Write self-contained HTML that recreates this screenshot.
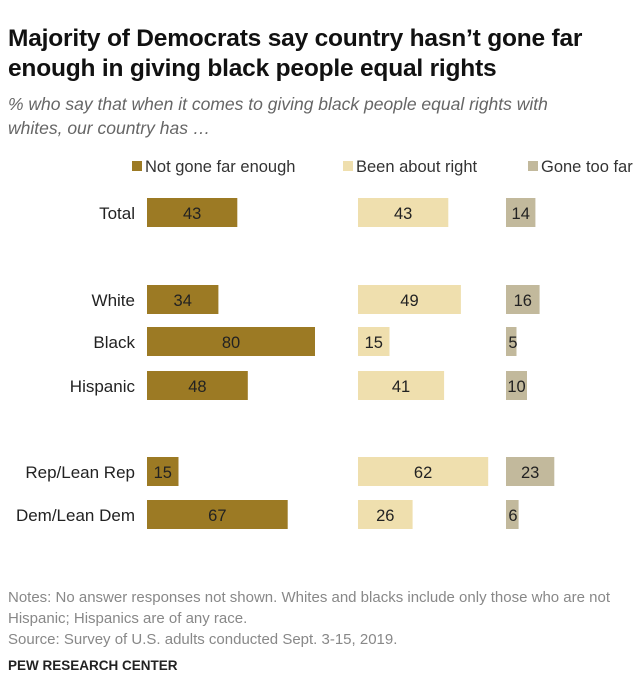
<!DOCTYPE html>
<html><head><meta charset="utf-8"><style>
body{margin:0;background:#fff;font-family:"Liberation Sans",sans-serif;}
#wrap{position:relative;width:639px;height:679px;overflow:hidden;}
.t{position:absolute;white-space:nowrap;}
</style></head><body>
<div id="wrap">
<div class="t" style="left:8px;top:24px;font-size:24.5px;font-weight:bold;color:#111;line-height:30px;letter-spacing:-0.2px">Majority of Democrats say country hasn’t gone far<br>enough in giving black people equal rights</div>
<div class="t" style="left:8px;top:92px;font-size:17.5px;font-style:italic;color:#666;line-height:24px">% who say that when it comes to giving black people equal rights with<br>whites, our country has …</div>
<svg id="svg" width="639" height="679" style="position:absolute;left:0;top:0"></svg>
<div class="t" style="left:8px;top:587px;font-size:15px;color:#888;line-height:21px">Notes: No answer responses not shown. Whites and blacks include only those who are not<br>Hispanic; Hispanics are of any race.<br>Source: Survey of U.S. adults conducted Sept. 3-15, 2019.</div>
<div class="t" style="left:8px;top:658px;font-size:13.5px;font-weight:bold;color:#222">PEW RESEARCH CENTER</div>
</div>
<script>
const categories=["Total","White","Black","Hispanic","Rep/Lean Rep","Dem/Lean Dem"];
const notFarEnough=[43,34,80,48,15,67];
const aboutRight=[43,49,15,41,62,26];
const tooFar=[14,16,5,10,23,6];
const seriesNames=["Not gone far enough","Been about right","Gone too far"];
const rowY=[213,300,342,386,472,515];
const colX=[147,358,506];
const colors=["#9c7a24","#efdfae","#c2b99c"];
const pxPerUnit=2.1;
const x=v=>v*pxPerUnit;
const svg=document.getElementById('svg');
const NS='http://www.w3.org/2000/svg';
function mk(tag,attrs){const e=document.createElementNS(NS,tag);for(const k in attrs)e.setAttribute(k,attrs[k]);svg.appendChild(e);return e;}
const legX=[132,343,528];
seriesNames.forEach((n,i)=>{
 const r=mk('rect',{x:legX[i],y:161,width:10,height:10,fill:colors[i]});
 
 
 const t=mk('text',{x:legX[i]+13,y:172,'font-size':16.5,fill:'#333','font-family':'Liberation Sans'});
 t.textContent=n;
 
 
});
const series=[notFarEnough,aboutRight,tooFar];
categories.forEach((c,ri)=>{
 const l=mk('text',{x:135,y:rowY[ri]+6,'font-size':17,fill:'#222','text-anchor':'end','font-family':'Liberation Sans'});
 l.textContent=c;
 
 
 series.forEach((s,si)=>{
  const w=x(s[ri]);
  const r=mk('rect',{x:colX[si],y:rowY[ri]-15,width:w,height:29,fill:colors[si]});
  
  
  const tx=mk('text',{x:colX[si]+Math.max(w/2,7),y:rowY[ri]+6,'font-size':16.5,fill:'#222','text-anchor':'middle','font-family':'Liberation Sans'});
  tx.textContent=s[ri];
  
  
 });
});
</script>
</body></html>
